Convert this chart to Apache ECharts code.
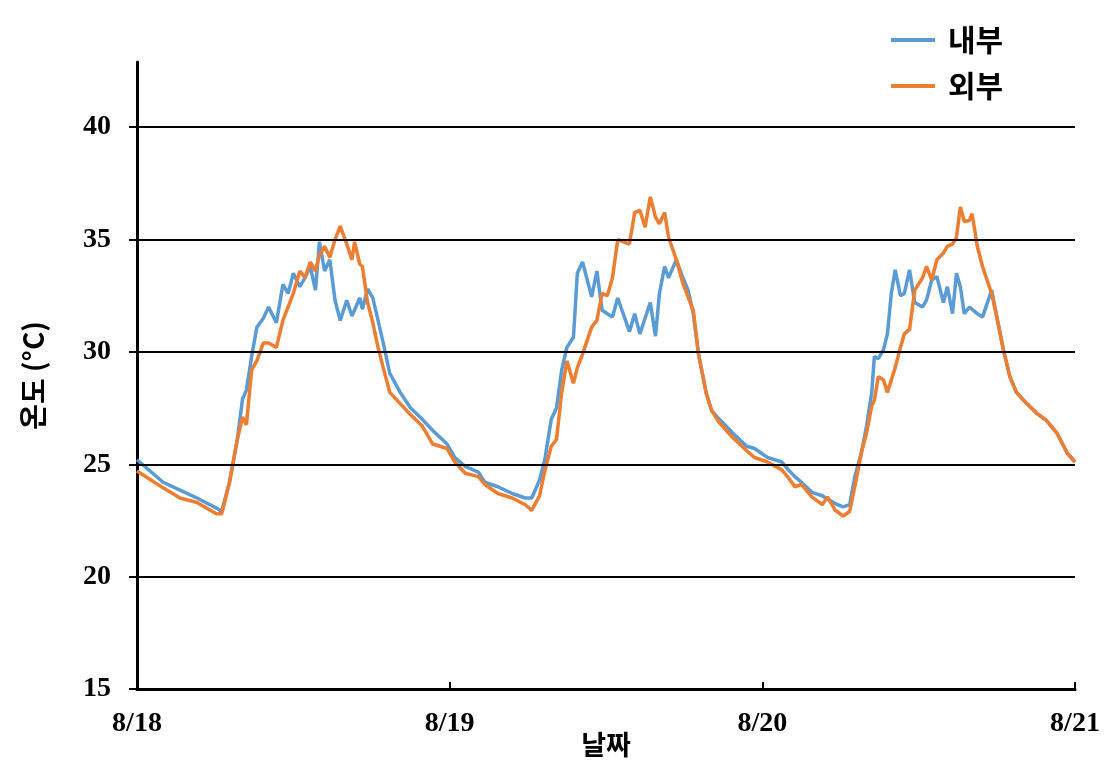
<!DOCTYPE html>
<html>
<head>
<meta charset="utf-8">
<script src="https://cdn.jsdelivr.net/npm/echarts@6/dist/echarts.min.js"></script>
<style>html,body{margin:0;padding:0;background:#fff}#c{width:1118px;height:772px}</style>
</head>
<body>
<div id="c"></div>
<script>
const dayLabels = ['8/18', '8/19', '8/20', '8/21'];
const yTicks = [15, 20, 25, 30, 35, 40];
const gridValues = [20, 25, 30, 35, 40];
const seriesNames = ['내부', '외부'];

const innerHours = [0,2.0,3.3,4.6,6.1,6.5,7.1,7.7,8.1,8.4,8.8,9.2,9.7,10.1,10.7,11.2,11.6,12.0,12.5,12.9,13.3,13.7,14.0,14.4,14.8,15.2,15.6,16.1,16.5,17.1,17.3,17.7,18.1,18.5,18.9,19.4,20.2,21.0,21.9,22.7,23.8,24.4,25.2,26.2,26.7,27.7,28.8,29.8,30.3,30.9,31.3,31.8,32.2,32.6,33.0,33.5,33.8,34.2,34.9,35.3,35.7,36.1,36.5,36.9,37.8,38.2,38.6,39.0,39.4,39.8,40.1,40.5,40.8,41.4,41.9,42.3,42.7,43.1,43.7,44.1,44.7,45.7,46.8,47.4,48.4,49.5,50.0,50.5,51.0,51.8,52.6,53.6,54.2,54.7,55.1,55.6,56.0,56.4,56.6,56.9,57.3,57.6,57.9,58.2,58.6,58.9,59.3,59.7,60.3,60.6,61.0,61.4,61.9,62.2,62.6,62.9,63.2,63.5,63.9,64.5,64.9,65.6,66.0,66.5,67.0,67.5,68.3,69.1,69.8,70.6,71.4,72];
const innerTemp = [25.2,24.2,23.85,23.5,23.05,22.9,24.2,26.1,27.9,28.3,29.8,31.1,31.5,32.0,31.3,33.0,32.6,33.5,32.9,33.3,33.8,32.75,34.9,33.6,34.1,32.3,31.4,32.3,31.6,32.4,31.9,32.8,32.4,31.4,30.4,29.05,28.2,27.5,27.0,26.5,25.9,25.3,24.9,24.65,24.2,24.0,23.7,23.5,23.5,24.3,25.2,27.0,27.5,29.2,30.2,30.65,33.5,34.0,32.45,33.6,31.85,31.7,31.55,32.4,30.9,31.7,30.8,31.5,32.2,30.7,32.6,33.8,33.3,34.1,33.3,32.75,31.7,29.9,28.15,27.4,27.0,26.4,25.8,25.7,25.3,25.1,24.75,24.45,24.2,23.75,23.6,23.25,23.1,23.2,24.45,25.5,26.7,28.2,29.8,29.7,30.1,30.8,32.6,33.65,32.5,32.6,33.65,32.2,32.0,32.3,33.2,33.35,32.2,32.9,31.7,33.5,32.9,31.7,32.0,31.7,31.55,32.75,31.55,30.1,28.9,28.2,27.7,27.25,26.95,26.4,25.5,25.1];

const outerHours = [0,2.0,3.3,4.6,6.1,6.5,7.1,7.7,8.1,8.4,8.8,9.2,9.7,10.1,10.7,11.2,11.6,12.0,12.5,12.9,13.3,13.7,14.0,14.4,14.8,15.2,15.6,16.1,16.5,16.7,17.1,17.3,17.7,18.1,18.5,18.9,19.4,20.2,21.0,21.9,22.7,23.8,24.4,25.2,26.2,26.7,27.7,28.8,29.8,30.3,30.9,31.3,31.8,32.2,32.6,33.0,33.5,33.8,34.2,34.9,35.3,35.7,36.1,36.5,36.9,37.8,38.2,38.6,39.0,39.4,39.8,40.1,40.5,40.8,41.4,41.9,42.3,42.7,43.1,43.7,44.1,44.7,45.7,46.8,47.4,48.4,49.5,50.0,50.5,51.0,51.8,52.6,53.0,53.6,54.2,54.7,55.1,55.6,56.0,56.4,56.6,56.9,57.3,57.6,57.9,58.2,58.6,58.9,59.3,59.7,60.3,60.6,61.0,61.4,61.9,62.2,62.6,62.9,63.2,63.5,63.9,64.1,64.5,64.9,65.6,66.0,66.5,67.0,67.5,68.3,69.1,69.8,70.6,71.4,72];
const outerTemp = [24.7,23.95,23.5,23.3,22.8,22.8,24.2,26.1,27.1,26.75,29.2,29.6,30.4,30.4,30.2,31.4,32.0,32.6,33.6,33.3,34.0,33.6,34.3,34.7,34.2,35.0,35.6,34.8,34.1,34.9,33.9,33.8,32.2,31.3,30.2,29.3,28.2,27.7,27.2,26.7,25.9,25.7,25.1,24.6,24.45,24.1,23.7,23.5,23.2,22.95,23.6,24.7,25.8,26.1,28.2,29.6,28.6,29.3,29.9,31.1,31.4,32.6,32.5,33.3,35.0,34.8,36.2,36.3,35.55,36.9,36.0,35.7,36.2,35.1,34.1,33.05,32.45,31.85,29.9,28.15,27.4,26.85,26.2,25.6,25.3,25.1,24.75,24.4,24.0,24.1,23.55,23.2,23.55,22.95,22.7,22.9,24.0,25.5,26.4,27.6,27.85,28.9,28.75,28.2,28.75,29.3,30.2,30.8,31.0,32.75,33.3,33.8,33.2,34.1,34.4,34.7,34.8,35.1,36.45,35.8,35.85,36.15,34.7,33.8,32.6,31.55,30.1,28.9,28.2,27.7,27.25,26.95,26.4,25.5,25.1];

const pair = (xs, ys) => xs.map((x, i) => [x, ys[i]]);

const chart = echarts.init(document.getElementById('c'), null, {renderer: 'canvas'});
const labelFont = {fontFamily: 'Liberation Serif', fontWeight: 'bold', fontSize: 28, color: '#000'};
const krFont = {fontFamily: 'Noto Sans CJK KR', fontWeight: 'bold', fontSize: 28, color: '#000'};

chart.setOption({
  animation: false,
  backgroundColor: '#fff',
  grid: {left: 137, right: 43, top: 62, bottom: 83, containLabel: false, outerBoundsMode: 'none'},
  legend: {
    data: seriesNames,
    orient: 'vertical',
    left: 886, top: 20,
    itemWidth: 44, itemHeight: 4, itemGap: 16,
    icon: 'rect',
    textStyle: Object.assign({}, krFont, {fontSize: 30, padding: [0, 0, 0, 8]})
  },
  xAxis: {
    type: 'value', min: 0, max: 72, interval: 24,
    name: '날짜', nameLocation: 'middle', nameGap: 42, nameMoveOverlap: false,
    nameTextStyle: Object.assign({}, krFont, {fontSize: 27}),
    axisLine: {show: true, lineStyle: {color: '#000', width: 3}},
    axisTick: {show: true, inside: true, length: 7, lineStyle: {color: '#000', width: 2}},
    axisLabel: Object.assign({}, labelFont, {margin: 21, formatter: v => dayLabels[Math.round(v / 24)]}),
    splitLine: {show: false}
  },
  yAxis: {
    type: 'value', min: 15, max: 42.9, interval: 5,
    name: '온도 (°C)', nameLocation: 'middle', nameGap: 90, nameRotate: 90, nameMoveOverlap: false,
    nameTextStyle: krFont,
    axisLine: {show: true, lineStyle: {color: '#000', width: 3}},
    axisTick: {show: true, inside: false, length: 8, customValues: yTicks, lineStyle: {color: '#000', width: 2}},
    axisLabel: Object.assign({}, labelFont, {margin: 26, customValues: yTicks, formatter: v => (v % 5 === 0 ? String(v) : '')}),
    splitLine: {show: false}
  },
  series: [
    {
      name: 'grid', type: 'line', data: [], z: 1, silent: true,
      markLine: {
        silent: true, symbol: 'none', animation: false,
        label: {show: false},
        lineStyle: {color: '#000', width: 2, type: 'solid'},
        data: gridValues.map(v => ({yAxis: v}))
      }
    },
    {
      name: seriesNames[0], type: 'line', z: 3,
      showSymbol: false, symbol: 'none',
      lineStyle: {color: '#5B9BD5', width: 3.5},
      itemStyle: {color: '#5B9BD5'},
      data: pair(innerHours, innerTemp)
    },
    {
      name: seriesNames[1], type: 'line', z: 4,
      showSymbol: false, symbol: 'none',
      lineStyle: {color: '#ED7D31', width: 3.5},
      itemStyle: {color: '#ED7D31'},
      data: pair(outerHours, outerTemp)
    }
  ]
});
</script>
</body>
</html>
